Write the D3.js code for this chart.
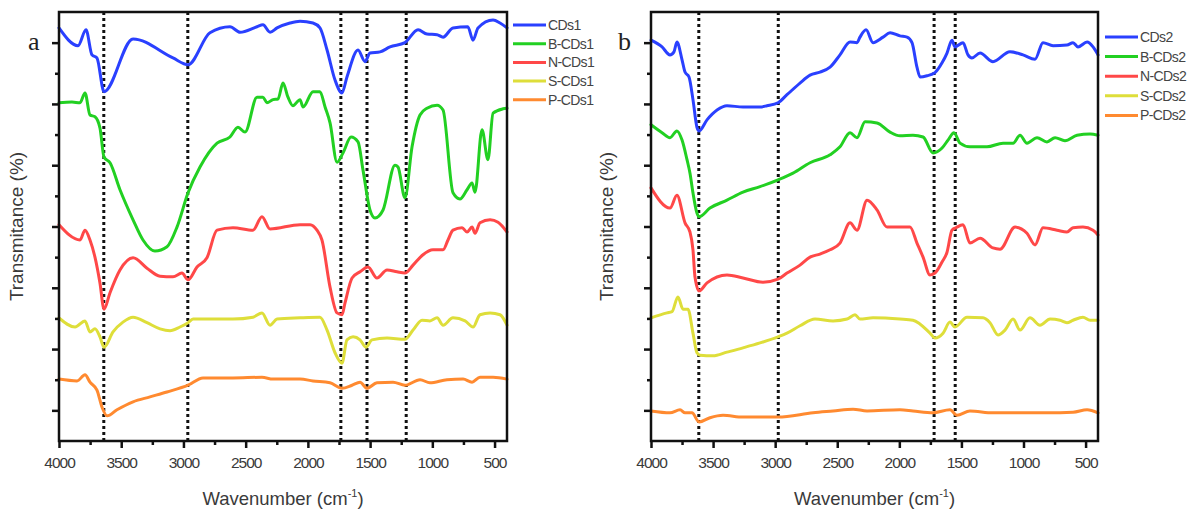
<!DOCTYPE html>
<html><head><meta charset="utf-8">
<script src="https://cdn.jsdelivr.net/npm/d3@7"></script>
<style>body{margin:0;background:#fff}svg{display:block}</style>
</head><body>
<svg id="c" width="1196" height="513"></svg>
<script>
// ---- data: [wavenumber (cm-1), transmittance (offset a.u.)] ----
const xTicks = [4000,3500,3000,2500,2000,1500,1000,500];
const xMinorTicks = [3750,3250,2750,2250,1750,1250,750];
const yMajorTicks = [5,15,25,35,45,55,65];
const yMinorTicks = [10,20,30,40,50,60];

const seriesNamesA = ["CDs1","B-CDs1","N-CDs1","S-CDs1","P-CDs1"];
const seriesNamesB = ["CDs2","B-CDs2","N-CDs2","S-CDs2","P-CDs2"];
const seriesColors = ["#2a40ff","#22d022","#ff4848","#dede3a","#ff8a30"];
const dashedA = [3640,2965,1735,1525,1210];
const dashedB = [3615,2975,1720,1550];

const cds1 = [[4000,67.4],[3847,64.5],[3783,67.1],[3735,63.0],[3695,62.5],[3638,57.0],[3405,65.6],[3084,62.5],[2963,61.4],[2787,66.6],[2626,67.6],[2545,66.7],[2409,67.6],[2361,67.9],[2304,66.7],[2248,67.4],[2144,68.2],[2063,68.5],[1959,68.2],[1903,67.4],[1846,63.8],[1782,58.9],[1726,56.8],[1686,59.4],[1597,63.8],[1541,61.9],[1501,63.3],[1420,63.5],[1340,64.3],[1220,65.0],[1115,67.1],[1043,66.4],[962,66.3],[914,65.9],[834,67.4],[715,67.6],[673,65.4],[633,67.4],[512,68.7],[456,68.2],[400,67.4]];
const bcds1 = [[4000,55.2],[3896,55.3],[3831,55.2],[3791,56.8],[3751,53.2],[3711,52.9],[3671,51.1],[3638,46.3],[3590,45.4],[3510,41.0],[3405,36.1],[3325,32.8],[3229,31.0],[3132,31.7],[3052,34.9],[2963,40.5],[2867,44.7],[2730,48.6],[2626,49.6],[2562,51.2],[2505,50.4],[2409,56.1],[2361,56.1],[2329,55.2],[2280,55.7],[2240,55.8],[2200,58.4],[2160,56.1],[2120,54.7],[2063,55.7],[2039,54.5],[1959,57.0],[1903,57.0],[1862,54.5],[1822,51.9],[1766,45.5],[1718,47.0],[1653,49.6],[1597,48.8],[1557,44.2],[1501,37.7],[1461,36.4],[1396,37.7],[1300,45.0],[1276,44.7],[1220,39.7],[1163,48.0],[1099,53.2],[1043,54.3],[962,54.8],[914,54.0],[834,40.5],[778,39.5],[721,41.0],[681,42.1],[657,40.6],[601,50.8],[553,45.9],[512,53.5],[432,54.2],[400,54.3]];
const ncds1 = [[4000,35.3],[3831,32.8],[3791,34.4],[3751,32.8],[3711,30.0],[3671,25.8],[3638,21.5],[3590,24.2],[3510,27.9],[3405,29.9],[3293,28.2],[3188,26.9],[3084,26.8],[3012,27.4],[2963,26.3],[2891,28.4],[2811,29.9],[2730,34.4],[2602,34.8],[2441,34.4],[2369,36.6],[2304,34.6],[2063,35.3],[1983,35.3],[1927,34.4],[1887,32.8],[1822,25.1],[1766,20.9],[1726,20.6],[1702,22.5],[1645,26.6],[1581,27.6],[1517,28.4],[1445,26.6],[1364,27.9],[1284,27.6],[1220,27.4],[1155,28.7],[1075,30.4],[995,31.2],[914,31.2],[874,32.8],[834,34.4],[761,34.8],[721,34.1],[681,34.9],[657,33.9],[617,35.6],[536,36.1],[472,35.7],[400,34.1]];
const scds1 = [[4000,20.1],[3871,18.6],[3791,19.6],[3751,17.8],[3711,18.3],[3671,17.0],[3638,15.3],[3566,17.8],[3486,19.4],[3405,20.2],[3293,19.3],[3188,18.3],[3108,18.0],[3028,18.6],[2963,19.3],[2923,19.9],[2730,19.9],[2602,19.9],[2441,20.2],[2369,20.9],[2304,18.9],[2248,19.9],[2063,20.1],[1903,20.2],[1846,18.1],[1782,14.4],[1726,12.7],[1686,16.5],[1637,17.0],[1581,16.5],[1533,15.3],[1485,16.5],[1364,16.8],[1220,16.6],[1155,18.1],[1083,19.7],[1019,19.6],[962,20.1],[914,18.9],[834,20.1],[737,19.6],[673,18.6],[617,20.6],[536,20.9],[456,20.6],[400,18.9]];
const pcds1 = [[4000,10.1],[3855,9.8],[3791,10.8],[3751,9.6],[3695,8.3],[3654,5.5],[3614,4.1],[3534,5.1],[3405,6.4],[3269,7.2],[3132,8.0],[2963,9.1],[2843,10.3],[2602,10.3],[2369,10.4],[2280,10.1],[2063,10.1],[1959,9.8],[1822,9.5],[1726,8.6],[1645,9.1],[1581,9.6],[1525,8.6],[1445,9.5],[1316,9.6],[1220,9.1],[1099,10.0],[1019,9.5],[882,10.0],[753,10.1],[681,9.6],[617,10.4],[512,10.4],[400,10.1]];

const cds2 = [[4000,65.4],[3911,64.3],[3847,63.0],[3815,63.5],[3791,65.1],[3750,62.2],[3726,60.2],[3694,59.4],[3662,55.7],[3630,51.2],[3613,50.6],[3549,52.4],[3468,54.0],[3388,54.7],[3259,54.5],[3122,54.5],[3066,54.7],[2977,55.2],[2905,56.5],[2800,58.4],[2719,59.7],[2639,60.2],[2558,61.0],[2478,63.0],[2397,65.1],[2341,65.0],[2317,65.9],[2268,67.1],[2212,65.0],[2131,65.9],[2075,66.6],[1995,66.1],[1938,65.9],[1898,65.0],[1858,61.0],[1833,59.4],[1777,59.6],[1713,60.1],[1656,61.7],[1616,63.3],[1576,65.4],[1552,64.3],[1487,65.0],[1447,63.0],[1415,62.5],[1350,63.3],[1246,61.9],[1109,63.5],[1004,63.0],[907,62.3],[843,65.0],[762,64.5],[650,64.6],[601,65.0],[561,64.3],[488,65.1],[440,64.3],[400,63.0]];
const bcds2 = [[4000,51.6],[3911,50.3],[3847,49.5],[3791,50.6],[3750,49.1],[3710,45.9],[3686,43.7],[3662,40.5],[3630,37.2],[3613,36.6],[3525,38.0],[3388,39.3],[3259,40.6],[3122,41.5],[2977,42.6],[2856,43.7],[2719,45.4],[2558,46.7],[2478,48.0],[2397,50.3],[2341,49.5],[2276,52.1],[2180,51.9],[2075,50.4],[1995,49.8],[1890,49.9],[1809,49.6],[1729,47.0],[1656,47.8],[1608,49.1],[1560,50.3],[1511,48.6],[1431,48.0],[1294,48.0],[1165,48.6],[1084,48.6],[1028,49.9],[972,48.6],[891,49.5],[811,48.8],[746,49.5],[666,49.0],[569,49.9],[464,50.1],[400,49.9]];
const ncds2 = [[4000,41.3],[3847,38.0],[3791,40.1],[3726,35.6],[3686,34.1],[3662,31.2],[3646,26.8],[3613,24.5],[3549,25.8],[3388,27.1],[3259,26.6],[3098,25.9],[2977,26.4],[2905,27.4],[2800,28.7],[2719,30.0],[2639,30.5],[2558,31.2],[2478,32.3],[2397,35.6],[2341,34.4],[2260,39.3],[2180,37.7],[2099,34.9],[1914,34.9],[1858,32.3],[1809,30.0],[1753,27.1],[1713,27.4],[1656,29.2],[1616,30.8],[1576,34.4],[1544,34.8],[1487,35.3],[1431,32.3],[1350,33.1],[1246,31.5],[1189,31.3],[1068,34.9],[972,33.9],[907,32.0],[843,34.8],[730,34.4],[650,34.1],[601,34.8],[521,34.9],[440,34.4],[400,33.6]];
const scds2 = [[4000,20.1],[3871,20.9],[3831,21.1],[3783,23.5],[3742,21.5],[3702,21.5],[3662,17.6],[3630,14.4],[3605,14.0],[3501,13.9],[3388,14.5],[3259,15.2],[3122,16.0],[2977,17.0],[2905,17.6],[2800,18.8],[2679,19.9],[2534,19.6],[2421,19.9],[2357,20.6],[2317,19.9],[2212,20.1],[1995,19.9],[1890,19.7],[1753,17.6],[1713,16.8],[1648,17.6],[1592,19.4],[1552,18.6],[1455,20.2],[1326,20.1],[1270,19.3],[1205,17.3],[1149,18.1],[1084,19.9],[1028,18.1],[948,20.1],[867,18.9],[786,19.9],[706,19.7],[650,19.3],[601,19.7],[521,20.2],[464,19.7],[400,19.7]];
const pcds2 = [[4000,4.9],[3847,4.6],[3766,5.1],[3726,4.6],[3670,4.6],[3613,3.1],[3525,3.8],[3420,4.2],[3259,3.9],[2977,3.9],[2695,4.6],[2534,4.9],[2373,5.2],[2260,4.9],[1995,5.1],[1890,4.9],[1729,4.6],[1592,5.1],[1536,4.2],[1431,4.9],[1246,4.6],[1084,4.6],[811,4.6],[601,4.7],[488,5.1],[400,4.6]];

const panels = [
  {left:59, right:507, label:"a", labelX:28, yTitleX:23, series:[cds1,bcds1,ncds1,scds1,pcds1], names:seriesNamesA, dashed:dashedA, legX:513, legY:25, legStep:18.7},
  {left:651, right:1098, label:"b", labelX:618, yTitleX:613, series:[cds2,bcds2,ncds2,scds2,pcds2], names:seriesNamesB, dashed:dashedB, legX:1105, legY:37, legStep:19.6}
];
const plotTop = 12, plotBottom = 441;
const svg = d3.select("#c");

panels.forEach(p => {
  const x = d3.scaleLinear().domain([4000,400]).range([p.left,p.right]);
  const y = d3.scaleLinear().domain([0,70]).range([plotBottom,plotTop]);
  const g = svg.append("g");

  g.selectAll("line.dash").data(p.dashed).join("line")
    .attr("x1",d=>x(d)).attr("x2",d=>x(d)).attr("y1",plotTop).attr("y2",plotBottom)
    .attr("stroke","#111").attr("stroke-width",3).attr("stroke-dasharray","3,3");

  const line = d3.line().x(d=>x(d[0])).y(d=>y(d[1])).curve(d3.curveMonotoneX);
  p.series.forEach((s,i) => {
    g.append("path").attr("d", line(s.slice().sort((a,b)=>a[0]-b[0])))
      .attr("fill","none").attr("stroke",seriesColors[i]).attr("stroke-width",3)
      .attr("stroke-linejoin","round").attr("stroke-linecap","round");
  });

  g.append("rect").attr("x",p.left).attr("y",plotTop).attr("width",p.right-p.left).attr("height",plotBottom-plotTop)
    .attr("fill","none").attr("stroke","#111").attr("stroke-width",2.5);

  const xa = g.append("g").attr("transform",`translate(0,${plotBottom})`)
    .call(d3.axisBottom(x).tickValues(xTicks).tickSize(7).tickPadding(9).tickFormat(d3.format("d")));
  xa.select(".domain").remove();
  xa.selectAll(".tick line").attr("stroke","#111").attr("stroke-width",2.5);
  xa.selectAll(".tick text").attr("font-family","Liberation Sans, Arial, sans-serif").attr("font-size",15.5).attr("fill","#3a3a3a").attr("letter-spacing","-1");
  const xm = g.append("g").attr("transform",`translate(0,${plotBottom})`)
    .call(d3.axisBottom(x).tickValues(xMinorTicks).tickSize(4).tickFormat(""));
  xm.select(".domain").remove();
  xm.selectAll(".tick line").attr("stroke","#111").attr("stroke-width",2.5);

  const ya = g.append("g").attr("transform",`translate(${p.left},0)`)
    .call(d3.axisLeft(y).tickValues(yMajorTicks).tickSize(7).tickFormat(""));
  ya.select(".domain").remove();
  ya.selectAll(".tick line").attr("stroke","#111").attr("stroke-width",2.5);
  const ym = g.append("g").attr("transform",`translate(${p.left},0)`)
    .call(d3.axisLeft(y).tickValues(yMinorTicks).tickSize(4).tickFormat(""));
  ym.select(".domain").remove();
  ym.selectAll(".tick line").attr("stroke","#111").attr("stroke-width",2.5);

  g.append("text").attr("transform",`translate(${p.yTitleX},${(plotTop+plotBottom)/2}) rotate(-90)`)
    .attr("text-anchor","middle").attr("font-family","Liberation Sans, Arial, sans-serif")
    .attr("font-size",19).attr("fill","#3a3a3a").text("Transmitance (%)");
  const xt = g.append("text").attr("x",(p.left+p.right)/2).attr("y",505).attr("text-anchor","middle")
    .attr("font-family","Liberation Sans, Arial, sans-serif").attr("font-size",18.5).attr("fill","#3a3a3a");
  xt.append("tspan").text("Wavenumber (cm");
  xt.append("tspan").attr("font-size",11).attr("dy",-8).text("-1");
  xt.append("tspan").attr("dy",8).text(")");

  g.append("text").attr("x",p.labelX).attr("y",50).attr("font-family","Liberation Serif, Times New Roman, serif")
    .attr("font-size",26).attr("fill","#222").text(p.label);

  const lg = g.append("g");
  p.names.forEach((n,i) => {
    const yy = p.legY + i*p.legStep;
    lg.append("line").attr("x1",p.legX).attr("x2",p.legX+33).attr("y1",yy).attr("y2",yy)
      .attr("stroke",seriesColors[i]).attr("stroke-width",3);
    lg.append("text").attr("x",p.legX+35).attr("y",yy+5).attr("font-family","Liberation Sans, Arial, sans-serif")
      .attr("font-size",14).attr("fill","#444").attr("letter-spacing","-0.6").text(n);
  });
});
</script>
</body></html>
